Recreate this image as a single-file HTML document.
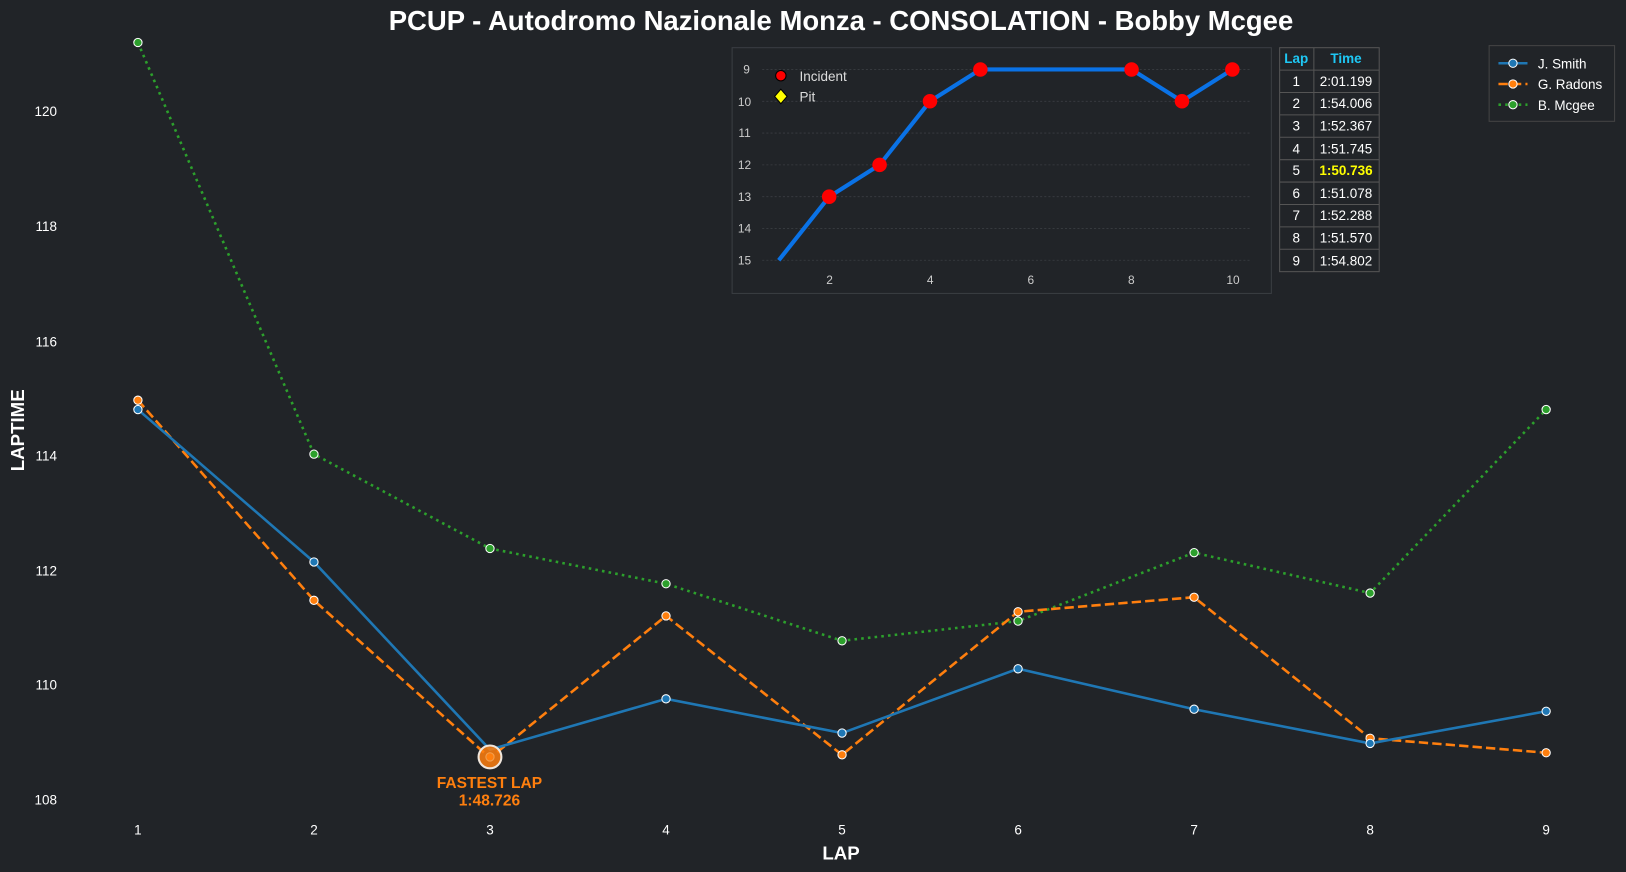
<!DOCTYPE html>
<html><head><meta charset="utf-8"><style>
html,body{margin:0;padding:0;background:#212428;}
svg{display:block;font-family:"Liberation Sans",Arial,sans-serif;}
</style></head><body>
<svg width="1626" height="872" viewBox="0 0 1568 841" preserveAspectRatio="none" xmlns="http://www.w3.org/2000/svg">
<rect width="1568" height="841" fill="#212428"/>
<text x="811" y="29" text-anchor="middle" fill="#fff" font-size="26.5" font-weight="bold">PCUP - Autodromo Nazionale Monza - CONSOLATION - Bobby Mcgee</text>
<g fill="#fff" font-size="13" text-anchor="end">
<text x="55" y="112">120</text><text x="55" y="223">118</text><text x="55" y="334">116</text><text x="55" y="444">114</text><text x="55" y="555">112</text><text x="55" y="665">110</text><text x="55" y="776">108</text>
</g>
<g fill="#fff" font-size="13" text-anchor="middle">
<text x="133" y="805">1</text><text x="302.75" y="805">2</text><text x="472.5" y="805">3</text><text x="642.25" y="805">4</text><text x="812" y="805">5</text><text x="981.75" y="805">6</text><text x="1151.5" y="805">7</text><text x="1321.25" y="805">8</text><text x="1491" y="805">9</text>
</g>
<text x="811" y="829" text-anchor="middle" fill="#fff" font-size="18" font-weight="bold">LAP</text>
<text transform="translate(23,415) rotate(-90)" text-anchor="middle" fill="#fff" font-size="18" font-weight="bold">LAPTIME</text>

<polyline fill="none" stroke="#2ca02c" stroke-width="2.5" stroke-dasharray="2.5,4" points="133,41 302.75,438 472.5,529 642.25,563 812,618 981.75,599 1151.5,533 1321.25,572 1491,395"/>
<polyline fill="none" stroke="#ff7f0e" stroke-width="2.5" stroke-dasharray="9,4" points="133,386 302.75,579 472.5,731 642.25,594 812,728 981.75,590 1151.5,576 1321.25,712 1491,726"/>
<polyline fill="none" stroke="#1f77b4" stroke-width="2.5" points="133,395 302.75,542 472.5,723 642.25,674 812,707 981.75,645 1151.5,684 1321.25,717 1491,686"/>
<g stroke="#fff" stroke-width="1" fill="#2ca02c">
<circle cx="133" cy="41" r="4"/><circle cx="302.75" cy="438" r="4"/><circle cx="472.5" cy="529" r="4"/><circle cx="642.25" cy="563" r="4"/><circle cx="812" cy="618" r="4"/><circle cx="981.75" cy="599" r="4"/><circle cx="1151.5" cy="533" r="4"/><circle cx="1321.25" cy="572" r="4"/><circle cx="1491" cy="395" r="4"/>
</g>
<g stroke="#fff" stroke-width="1" fill="#ff7f0e">
<circle cx="133" cy="386" r="4"/><circle cx="302.75" cy="579" r="4"/><circle cx="642.25" cy="594" r="4"/><circle cx="812" cy="728" r="4"/><circle cx="981.75" cy="590" r="4"/><circle cx="1151.5" cy="576" r="4"/><circle cx="1321.25" cy="712" r="4"/><circle cx="1491" cy="726" r="4"/>
</g>
<g stroke="#fff" stroke-width="1" fill="#1f77b4">
<circle cx="133" cy="395" r="4"/><circle cx="302.75" cy="542" r="4"/><circle cx="642.25" cy="674" r="4"/><circle cx="812" cy="707" r="4"/><circle cx="981.75" cy="645" r="4"/><circle cx="1151.5" cy="684" r="4"/><circle cx="1321.25" cy="717" r="4"/><circle cx="1491" cy="686" r="4"/>
</g>
<circle cx="472.5" cy="730" r="11" fill="#ff7f0e" fill-opacity="0.85" stroke="#f0e6dc" stroke-width="2"/>
<circle cx="472.5" cy="730" r="4" fill="#ff7f0e" stroke="#f3a050" stroke-width="1"/>
<text x="472" y="760" text-anchor="middle" fill="#ff7f0e" font-size="15" font-weight="bold">FASTEST LAP</text>
<text x="472" y="777" text-anchor="middle" fill="#ff7f0e" font-size="15" font-weight="bold">1:48.726</text>

<!-- inset -->
<rect x="706" y="46" width="520" height="237" fill="#212428" stroke="#3a3d42" stroke-width="1"/>
<g stroke="#3a3d42" stroke-width="0.8" stroke-dasharray="2,2">
<line x1="735" x2="1205" y1="67" y2="67"/><line x1="735" x2="1205" y1="97.7" y2="97.7"/><line x1="735" x2="1205" y1="128.3" y2="128.3"/><line x1="735" x2="1205" y1="159" y2="159"/><line x1="735" x2="1205" y1="189.7" y2="189.7"/><line x1="735" x2="1205" y1="220.3" y2="220.3"/><line x1="735" x2="1205" y1="251" y2="251"/>
</g>
<g fill="#ccc" font-size="11.5" text-anchor="middle">
<text x="720" y="71">9</text><text x="718" y="102">10</text><text x="718" y="132">11</text><text x="718" y="163">12</text><text x="718" y="194">13</text><text x="718" y="224">14</text><text x="718" y="255">15</text>
<text x="800" y="274">2</text><text x="897" y="274">4</text><text x="994" y="274">6</text><text x="1091" y="274">8</text><text x="1189" y="274">10</text>
</g>
<polyline fill="none" stroke="#0a72e6" stroke-width="4" stroke-linejoin="round" points="751,251 799.6,189.7 848.2,159 896.8,97.7 945.4,67 994,67 1042.6,67 1091.2,67 1139.8,97.7 1188.4,67"/>
<g fill="#ff0000">
<circle cx="799.6" cy="189.7" r="7"/><circle cx="848.2" cy="159" r="7"/><circle cx="896.8" cy="97.7" r="7"/><circle cx="945.4" cy="67" r="7"/><circle cx="1091.2" cy="67" r="7"/><circle cx="1139.8" cy="97.7" r="7"/><circle cx="1188.4" cy="67" r="7"/>
</g>
<circle cx="753" cy="73" r="5" fill="#ff0000" stroke="#000" stroke-width="1"/>
<polygon points="753,86 759,93 753,100 747,93" fill="#ffff00" stroke="#000" stroke-width="1"/>
<text x="771" y="78" fill="#ddd" font-size="13">Incident</text>
<text x="771" y="98" fill="#ddd" font-size="13">Pit</text>

<!-- table -->
<g stroke="#555" stroke-width="1" fill="none">
<rect x="1234" y="46" width="96" height="216"/>
<line x1="1267" x2="1267" y1="46" y2="262"/>
<line x1="1234" x2="1330" y1="67.6" y2="67.6"/><line x1="1234" x2="1330" y1="89.2" y2="89.2"/><line x1="1234" x2="1330" y1="110.8" y2="110.8"/><line x1="1234" x2="1330" y1="132.4" y2="132.4"/><line x1="1234" x2="1330" y1="154" y2="154"/><line x1="1234" x2="1330" y1="175.6" y2="175.6"/><line x1="1234" x2="1330" y1="197.2" y2="197.2"/><line x1="1234" x2="1330" y1="218.8" y2="218.8"/><line x1="1234" x2="1330" y1="240.4" y2="240.4"/>
</g>
<g font-size="13" text-anchor="middle" fill="#fff">
<text x="1250" y="61" fill="#1ec8f5" font-weight="bold">Lap</text><text x="1298" y="61" fill="#1ec8f5" font-weight="bold">Time</text>
<text x="1250" y="83">1</text><text x="1298" y="83">2:01.199</text>
<text x="1250" y="104">2</text><text x="1298" y="104">1:54.006</text>
<text x="1250" y="126">3</text><text x="1298" y="126">1:52.367</text>
<text x="1250" y="148">4</text><text x="1298" y="148">1:51.745</text>
<text x="1250" y="169">5</text><text x="1298" y="169" fill="#ffff00" font-weight="bold">1:50.736</text>
<text x="1250" y="191">6</text><text x="1298" y="191">1:51.078</text>
<text x="1250" y="212">7</text><text x="1298" y="212">1:52.288</text>
<text x="1250" y="234">8</text><text x="1298" y="234">1:51.570</text>
<text x="1250" y="256">9</text><text x="1298" y="256">1:54.802</text>
</g>

<!-- legend -->
<rect x="1436" y="44" width="121" height="73" fill="#212428" stroke="#444" stroke-width="1"/>
<line x1="1445" x2="1473" y1="61" y2="61" stroke="#1f77b4" stroke-width="2.5"/><circle cx="1459" cy="61" r="4" fill="#1f77b4" stroke="#fff"/>
<line x1="1445" x2="1473" y1="81" y2="81" stroke="#ff7f0e" stroke-width="2.5" stroke-dasharray="9,4"/><circle cx="1459" cy="81" r="4" fill="#ff7f0e" stroke="#fff"/>
<line x1="1445" x2="1473" y1="101" y2="101" stroke="#2ca02c" stroke-width="2.5" stroke-dasharray="2.5,4"/><circle cx="1459" cy="101" r="4" fill="#2ca02c" stroke="#fff"/>
<g fill="#fff" font-size="13"><text x="1483" y="66">J. Smith</text><text x="1483" y="86">G. Radons</text><text x="1483" y="106">B. Mcgee</text></g>
</svg>
</body></html>
